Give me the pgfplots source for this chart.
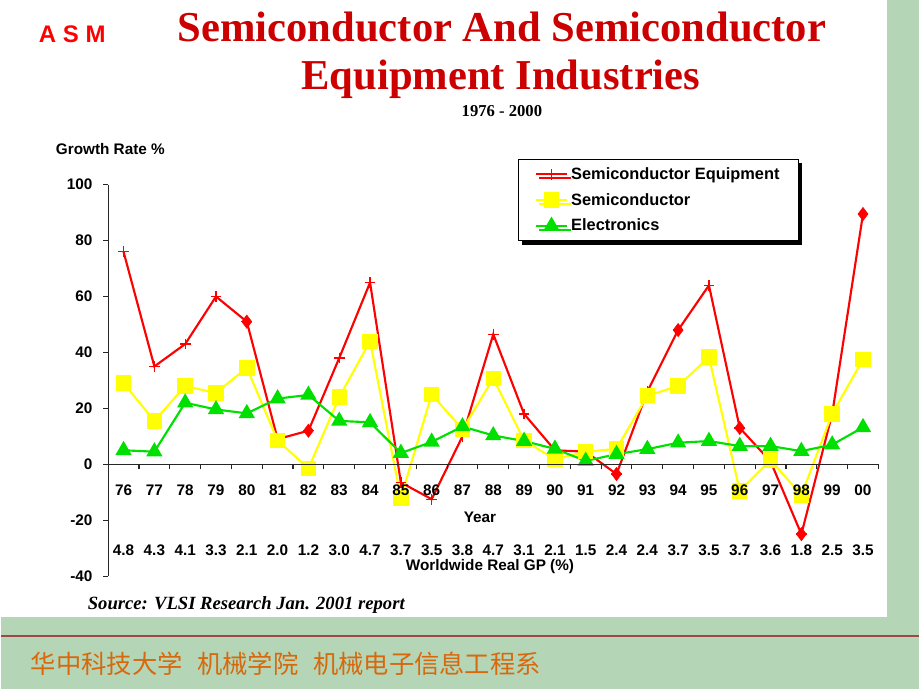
\documentclass[border=0pt]{standalone}
\usepackage{pgfplots}
\pgfplotsset{compat=1.18}
\usepackage{pgfplotstable}
\usepackage{fontspec}
\setmainfont{Liberation Sans}
\newfontfamily\timesfont{Liberation Serif}
\newfontfamily\cjk{Noto Sans CJK SC}
\usetikzlibrary{shadows}

\definecolor{equipRed}{HTML}{FF0000}
\definecolor{semiYellow}{HTML}{FFFF00}
\definecolor{elecGreen}{HTML}{00E000}
\definecolor{titleRed}{HTML}{CC0000}
\definecolor{slideGreen}{HTML}{B4D6B6}
\definecolor{ruleRed}{HTML}{A04848}
\definecolor{cjkOrange}{HTML}{D8680C}

% growth rate %, years 76..00 at x = 0..24
\pgfplotstableread{
x y
0 76
1 35
2 43
3 60
4 51
5 9
6 12
7 38
8 65
9 -6.5
10 -12.5
11 10
12 46.5
13 18
14 5
15 4.5
16 -3.5
17 26
18 48
19 64
20 13
21 1
22 -25
23 18
24 89.5
}\equipment

% points Excel drew with a diamond
\pgfplotstableread{
x y
4 51
6 12
16 -3.5
18 48
20 13
22 -25
24 89.5
}\equipdiamonds

\pgfplotstableread{
x y
0 29
1 15.5
2 28
3 25.5
4 34.5
5 8.5
6 -1.5
7 24
8 44
9 -12
10 25
11 12.5
12 30.7
13 8.5
14 1.8
15 4.5
16 5.5
17 24.5
18 28
19 38.3
20 -9.5
21 1.5
22 -11
23 18
24 37.5
}\semi

\pgfplotstableread{
x y
0 5
1 4.5
2 22
3 19.6
4 18.2
5 23.5
6 24.8
7 15.5
8 15
9 4
10 8
11 13.5
12 10.3
13 8.3
14 5.5
15 1.2
16 3.6
17 5.4
18 7.7
19 8.3
20 6.5
21 6.5
22 4.7
23 7
24 13.2
}\electronics

\begin{document}
\begin{tikzpicture}
% slide, drawn in pixel units of the 920x690 reference
\begin{scope}[x=0.75pt,y=0.75pt]
  \fill[slideGreen] (0,0) rectangle (920,690);
  \fill[white] (0,72) rectangle (888,690);
  \draw[ruleRed, line width=1.1pt] (0,53) -- (920,53);
  \path[use as bounding box] (0,0) rectangle (920,690);

  \node[anchor=base west, text=equipRed, font=\bfseries\fontsize{18}{18}\selectfont, inner sep=0pt]
    at (38,647) {A\hspace{5pt}S\hspace{5pt}M};
  \node[anchor=base, text=titleRed, font=\timesfont\bfseries\fontsize{32}{32}\selectfont, inner sep=0pt]
    at (502,648) {Semiconductor And Semiconductor};
  \node[anchor=base, text=titleRed, font=\timesfont\bfseries\fontsize{32}{32}\selectfont, inner sep=0pt]
    at (501,600) {Equipment Industries};
  \node[anchor=base, font=\timesfont\bfseries\fontsize{12.5}{12.5}\selectfont, inner sep=0pt]
    at (502,573) {1976 - 2000};
  \node[anchor=base west, font=\bfseries\fontsize{11.5}{11.5}\selectfont, inner sep=0pt]
    at (55,535) {Growth Rate \%};
  \node[font=\bfseries\fontsize{11.5}{11.5}\selectfont, inner sep=0pt]
    at (480,172) {Year};
  \node[font=\bfseries\fontsize{11.5}{11.5}\selectfont, inner sep=0pt]
    at (490,123) {Worldwide Real GP (\%)};
  \node[anchor=base west, font=\timesfont\bfseries\itshape\fontsize{14}{14}\selectfont, inner sep=0pt]
    at (87,80) {Source: VLSI Research Jan. 2001 report};
  \node[anchor=west, text=cjkOrange, font=\cjk\fontsize{19}{19}\selectfont, inner sep=0pt]
    at (30,25) {华中科技大学\hspace{11pt}机械学院\hspace{11pt}机械电子信息工程系};
\end{scope}

\begin{axis}[
    at={(80.7pt,84.75pt)},
    anchor=south west,
    scale only axis,
    width=578.6pt,
    height=294pt,
    set layers=axis on top,
    xmin=-0.5, xmax=24.5,
    ymin=-40, ymax=100,
    axis y line=left,
    axis x line=middle,
    axis line style={-, line width=0.8pt, black!85},
    tick style={line width=0.8pt, black!85},
    major tick style={draw=none},
    tick align=outside,
    minor tick length=3.75pt,
    ytick={-40,-20,0,20,40,60,80,100},
    minor ytick={-40,-20,0,20,40,60,80,100},
    yticklabels={-40,-20,0,20,40,60,80,100},
    xtick={0,...,24},
    xticklabels={76,77,78,79,80,81,82,83,84,85,86,87,88,89,90,91,92,93,94,95,96,97,98,99,00},
    minor xtick={0.5,1.5,...,24.5},
    xticklabel style={anchor=center, yshift=-15pt},
    extra x ticks={0,...,24},
    extra x tick labels={4.8,4.3,4.1,3.3,2.1,2.0,1.2,3.0,4.7,3.7,3.5,3.8,4.7,3.1,2.1,1.5,2.4,2.4,3.7,3.5,3.7,3.6,1.8,2.5,3.5},
    extra x tick style={major tick style={draw=none}, xticklabel style={yshift=-45pt}},
    ticklabel style={font=\bfseries\fontsize{11.5}{11.5}\selectfont},
    yticklabel style={xshift=-4pt},
    legend style={
        at={(0.532,1.066)}, anchor=north west,
        draw=black, line width=0.8pt,
        fill=white,
        drop shadow={shadow xshift=3pt, shadow yshift=-3pt, fill=black, opacity=1},
        font=\bfseries\fontsize{12.3}{12.3}\selectfont,
        inner xsep=12pt, inner ysep=4pt,
        row sep=5pt,
        /tikz/every even column/.append style={column sep=3pt}
    },
    legend cell align=left,
    legend image code/.code={
        \draw[mark repeat=2, mark phase=2, #1] plot coordinates {(0pt,0pt) (12pt,0pt) (24pt,0pt)};
    },
]
\addplot[equipRed, line width=1.6pt, mark=+, mark size=4pt, mark options={line width=1pt}]
    table {\equipment};
\addlegendentry{Semiconductor Equipment}
\addplot[semiYellow, line width=1.6pt, mark=square*, mark size=5pt]
    table {\semi};
\addlegendentry{Semiconductor}
\addplot[elecGreen, line width=1.6pt, mark=triangle*, mark size=5.5pt]
    table {\electronics};
\addlegendentry{Electronics}
\addplot[equipRed, only marks, mark=diamond*, mark size=5pt, forget plot]
    table {\equipdiamonds};
\end{axis}
\end{tikzpicture}
\end{document}
